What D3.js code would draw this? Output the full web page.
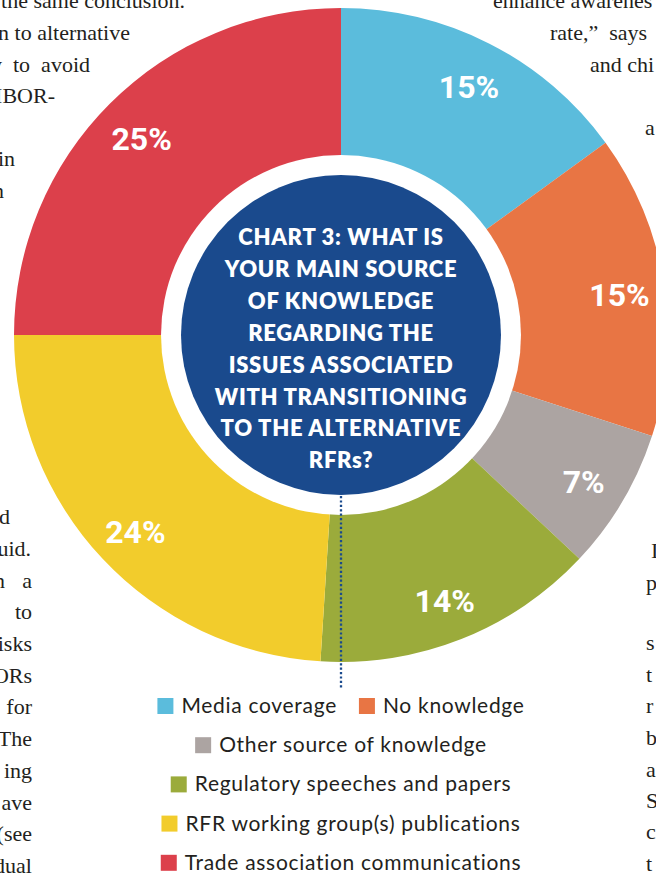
<!DOCTYPE html>
<html>
<head>
<meta charset="utf-8">
<script src="https://cdn.jsdelivr.net/npm/d3@7"></script>
<style>
  body { margin: 0; background: #fff; }
  svg { display: block; }
  .body-text { font-family: "Liberation Serif", serif; font-size: 22px; fill: #231f20; }
  .pct { font-family: Roboto, sans-serif; font-weight: 700; font-size: 32px; fill: #fff; }
  .title { font-family: Lato, sans-serif; font-weight: 800; font-size: 22px; letter-spacing: 0.7px; fill: #fff; }
  .legend text { font-family: Lato, sans-serif; font-size: 21px; letter-spacing: 0.7px; fill: #231f20; }
</style>
</head>
<body>
<svg class="chart"></svg>
<script>
// chart data
const categories = ['Media coverage', 'No knowledge', 'Other source of knowledge',
  'Regulatory speeches and papers', 'RFR working group(s) publications', 'Trade association communications'];
const shares = [15, 15, 7, 14, 24, 25];
const colors = ['#5bbcdc', '#e87544', '#aca4a2', '#9bab3b', '#f2cc2c', '#dc404b'];
const titleLines = ['CHART 3: WHAT IS', 'YOUR MAIN SOURCE', 'OF KNOWLEDGE', 'REGARDING THE',
  'ISSUES ASSOCIATED', 'WITH TRANSITIONING', 'TO THE ALTERNATIVE', 'RFRs?'];
const legendRows = [[0, 1], [2], [3], [4], [5]];

// bits of the magazine text around the chart: [text, x, baseline, anchor]
const bodyLines = [
  ['the same conclusion.', 185, 8, 'end'],
  ['n to alternative', 130, 40, 'end'],
  ['y  to  avoid', 90, 72, 'end'],
  ['IBOR-', 55, 103, 'end'],
  ['in', 15, 166, 'end'],
  ['n', 4, 198, 'end'],
  ['d', 10, 524, 'end'],
  ['uid.', 31, 556, 'end'],
  ['a', 32, 588, 'end'],
  ['n', 5, 588, 'end'],
  ['to', 32, 619, 'end'],
  ['isks', 32, 651, 'end'],
  ['ORs', 32, 683, 'end'],
  ['for', 32, 714, 'end'],
  ['The', 32, 746, 'end'],
  ['ing', 32, 778, 'end'],
  ['ave', 32, 810, 'end'],
  ['(see', 32, 841, 'end'],
  ['dual', 32, 873, 'end'],
  ['enhance awarenes', 493, 8, 'start'],
  ['rate,\u201D  says  S', 550, 40, 'start'],
  ['and chi', 590, 72, 'start'],
  ['a', 645, 135, 'start'],
  ['I', 651, 558, 'start'],
  ['p', 646, 590, 'start'],
  ['s', 646, 650, 'start'],
  ['t', 646, 682, 'start'],
  ['r', 646, 713, 'start'],
  ['b', 646, 745, 'start'],
  ['a', 646, 777, 'start'],
  ['S', 646, 808, 'start'],
  ['c', 646, 839, 'start'],
  ['t', 646, 871, 'start']
];

const width = 656;
const height = 876;
const cx = 341;
const cy = 335;

const svg = d3.select('svg.chart')
  .attr('width', width)
  .attr('height', height);

//Body text fragments
svg.append('g')
  .selectAll('text')
  .data(bodyLines)
  .enter()
  .append('text')
    .classed('body-text', true)
    .attr('x', d => d[1])
    .attr('y', d => d[2])
    .attr('text-anchor', d => d[3])
    .style('white-space', 'pre')
    .text(d => d[0]);

//Donut
const pie = d3.pie().sort(null).value(d => d)(shares);
const arc = d3.arc().innerRadius(150).outerRadius(327);
const labelArc = d3.arc().innerRadius(282).outerRadius(282);

const donut = svg.append('g').attr('transform', `translate(${cx},${cy})`);

donut.selectAll('path')
  .data(pie)
  .enter()
  .append('path')
    .attr('d', arc)
    .attr('fill', (d, i) => colors[i]);

donut.selectAll('.pct')
  .data(pie)
  .enter()
  .append('text')
    .classed('pct', true)
    .attr('transform', d => `translate(${labelArc.centroid(d)})`)
    .attr('text-anchor', 'middle')
    .attr('dy', '0.46em')
    .text(d => d.data + '%');

//White ring and blue centre
donut.append('circle').attr('r', 180).attr('fill', '#fff');
donut.append('circle').attr('r', 160).attr('fill', '#1a4a8d');

//Dotted pointer down to the legend
svg.append('line')
  .attr('x1', cx).attr('x2', cx)
  .attr('y1', cy + 161).attr('y2', 689)
  .attr('stroke', '#1a4a8d')
  .attr('stroke-width', 2.3)
  .attr('stroke-dasharray', '2.2,2.2');

//Centre title
svg.append('g')
  .selectAll('text')
  .data(titleLines)
  .enter()
  .append('text')
    .classed('title', true)
    .attr('x', cx)
    .attr('y', (d, i) => 245 + i * 31.9)
    .attr('text-anchor', 'middle')
    .text(d => d);

//Legend, one centred row at a time
const legend = svg.append('g').classed('legend', true);
const box = 16;
const boxGap = 8;
const itemGap = 22;

legendRows.forEach((row, r) => {
  const yMid = 706 + r * 39.2;
  const rowG = legend.append('g');
  let x = 0;
  row.forEach((idx, k) => {
    if (k > 0) x += itemGap;
    rowG.append('rect')
      .attr('x', x).attr('y', yMid - box / 2)
      .attr('width', box).attr('height', box)
      .attr('fill', colors[idx]);
    const t = rowG.append('text')
      .attr('x', x + box + boxGap)
      .attr('y', yMid + 7)
      .text(categories[idx]);
    x += box + boxGap + t.node().getComputedTextLength();
  });
  rowG.attr('transform', `translate(${cx - x / 2},0)`);
});
</script>
</body>
</html>
